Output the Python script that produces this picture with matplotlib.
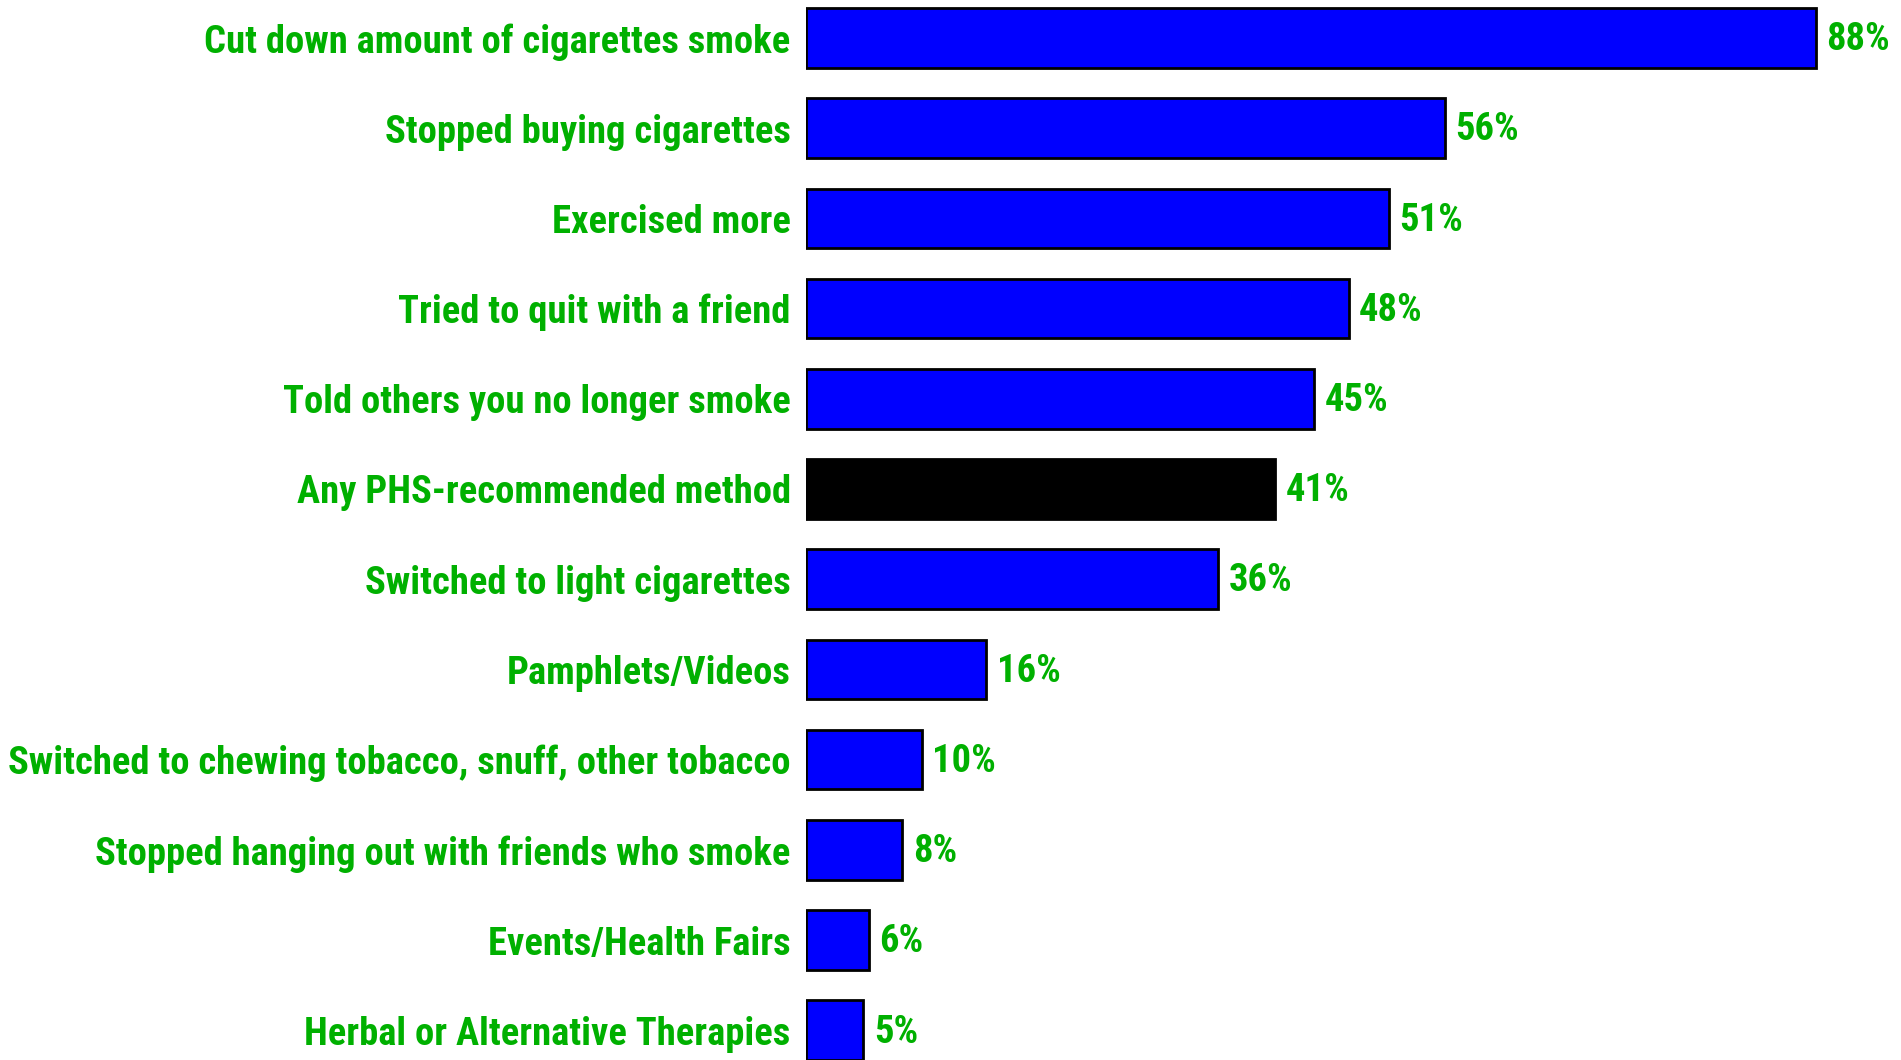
import matplotlib
matplotlib.use("Agg")
import matplotlib.pyplot as plt
from matplotlib import font_manager

labels = [
    "Cut down amount of cigarettes smoke",
    "Stopped buying cigarettes",
    "Exercised more",
    "Tried to quit with a friend",
    "Told others you no longer smoke",
    "Any PHS-recommended method",
    "Switched to light cigarettes",
    "Pamphlets/Videos",
    "Switched to chewing tobacco, snuff, other tobacco",
    "Stopped hanging out with friends who smoke",
    "Events/Health Fairs",
    "Herbal or Alternative Therapies",
]
# unrounded percentages and the printed labels
values = [88.0, 55.7, 50.8, 47.3, 44.3, 40.9, 35.9, 15.7, 10.1, 8.4, 5.5, 5.0]
value_labels = ["88%", "56%", "51%", "48%", "45%", "41%", "36%", "16%", "10%", "8%", "6%", "5%"]
highlight = "Any PHS-recommended method"

green = "#00B000"

# look for a narrow bold font, else plain Liberation Sans
have = {f.name for f in font_manager.fontManager.ttflist}
font = "Liberation Sans"
for cand in ["Liberation Sans Narrow", "Roboto Condensed", "Open Sans Condensed", "DejaVu Sans Condensed"]:
    if cand in have:
        font = cand
        break

fig = plt.figure(figsize=(19.01, 10.60), dpi=100)
ax = fig.add_axes([806 / 1901, 0, 1 - 806 / 1901, 1])

pos = list(range(len(labels)))
colors = ["black" if l == highlight else "#0000FF" for l in labels]
ax.barh(pos, values, height=0.66, color=colors, edgecolor="black", linewidth=2)

ax.set_xlim(0, 95.4)
ax.set_ylim(11.33, -0.42)

# size the text so the longest label fits like in the original
r = fig.canvas.get_renderer()
t = fig.text(0, 0, labels[8], fontsize=20, fontweight="bold", family=font)
w = t.get_window_extent(r).width
t.remove()
fs = min(20 * 780 / w, 31)

for p, v, s in zip(pos, values, value_labels):
    ax.text(v + 0.9, p + 0.02, s, va="center", ha="left", color=green,
            fontsize=fs, fontweight="bold", family=font)

ax.set_yticks(pos)
ax.set_yticklabels(labels, color=green, fontsize=fs, fontweight="bold", family=font)
ax.tick_params(axis="y", length=0, pad=11)
ax.set_xticks([])
for s in ax.spines.values():
    s.set_visible(False)

fig.savefig("out.png", dpi=100)
